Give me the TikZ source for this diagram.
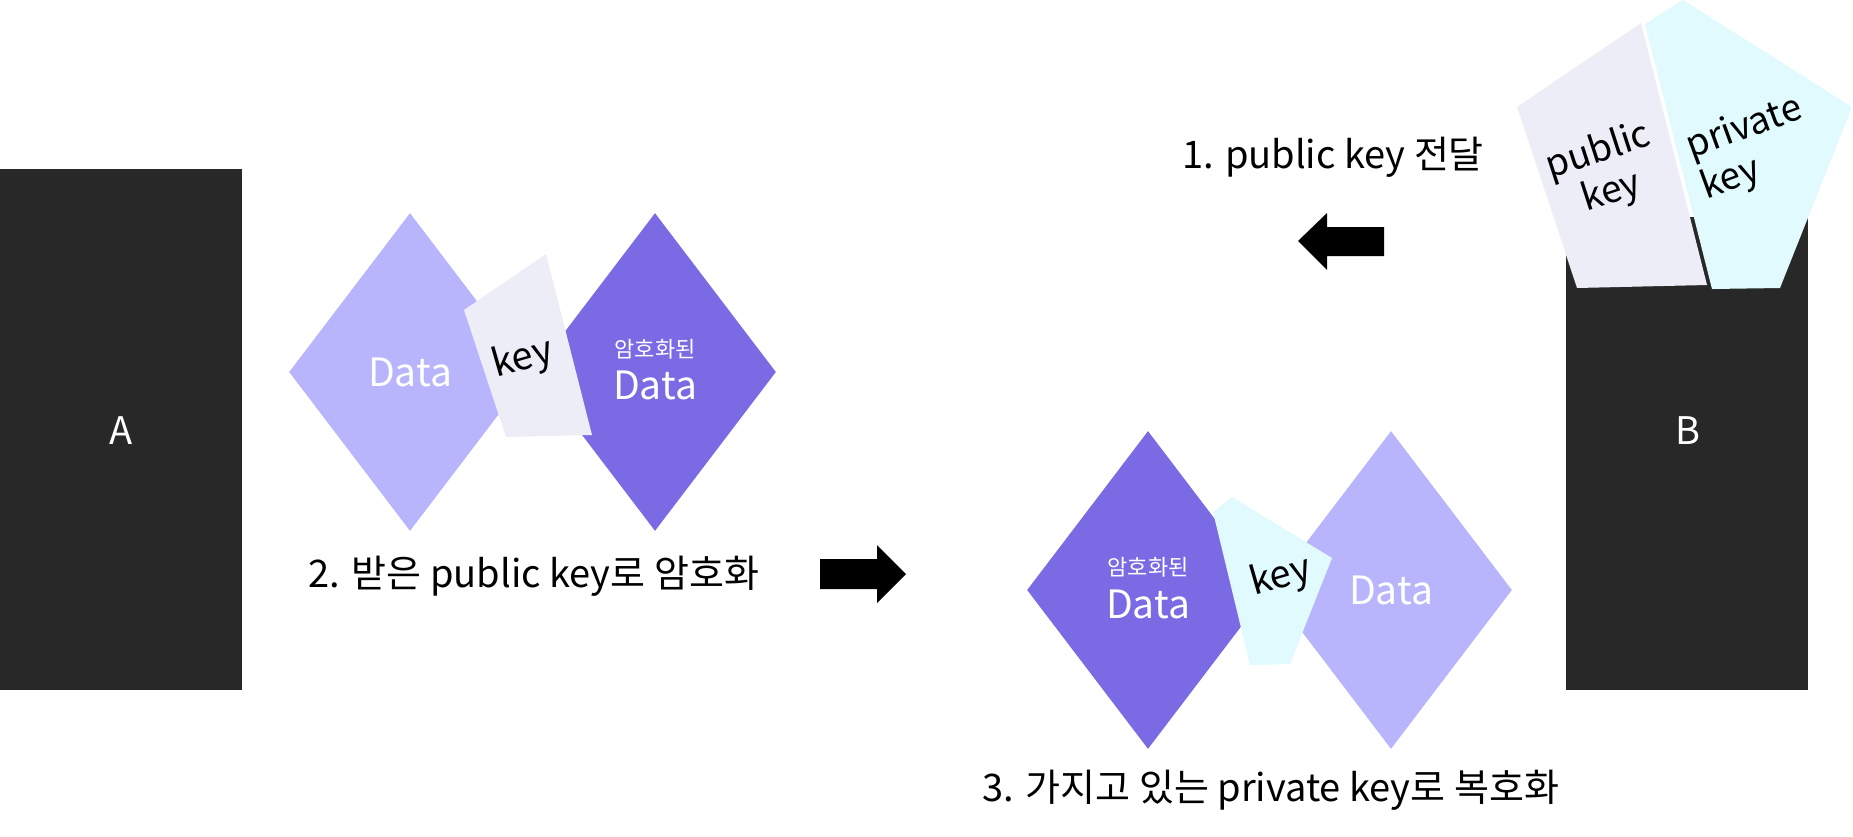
\documentclass[tikz,border=0pt]{standalone}
\usepackage{fontspec}
\setmainfont{Noto Sans CJK KR}
\usetikzlibrary{shapes.geometric}

\definecolor{boxgray}{HTML}{282828}
\definecolor{plainlav}{HTML}{B8B5FC}
\definecolor{cipherpur}{HTML}{7A6AE4}
\definecolor{pubkey}{HTML}{EDEDF7}
\definecolor{privkey}{HTML}{E1FAFD}

\begin{document}
\begin{tikzpicture}[x=0.5pt,y=-0.5pt]
		\tikzset{datatxt/.style={text=white,font=\fontsize{19.5}{22}\selectfont}};
		\tikzset{gem/.style={diamond,inner sep=0pt,minimum width=121pt,minimum height=159pt,datatxt}};
		\tikzset{big/.style={font=\fontsize{19}{22}\selectfont}};
		\tikzset{tag/.style={text=white,font=\fontsize{11}{13}\selectfont}};
		\tikzset{keytext/.style={big,rotate=16}};
		\tikzset{pairtext/.style={font=\fontsize{18.5}{21.5}\selectfont,inner sep=0pt}};
		
		\useasboundingbox (0,0) rectangle (1853,836);
		
		% A and B
		\fill [boxgray] (0,169) rectangle (242,690);
		\fill [boxgray] (1566,217) rectangle (1808,690);
		\node (A) at (121,431) [big,text=white]{A};
		\node (B) at (1688,431) [big,text=white]{B};
		
		% keys of B
		\fill [pubkey] (1517,107)--(1641,23)--(1707,285)--(1577,288)--cycle;
		\fill [privkey] (1645,24)--(1683,0)--(1852,107)--(1780,288)--(1712,289)--cycle;
		\node (pub) at (1605,172) [pairtext,rotate=18,align=center]{public\\key};
		\node (priv) at (1752,149) [pairtext,rotate=20,align=left]{private\\key};
		
		% step 1
		\node (s1) at (1333,157) [big]{1. public key 전달};
		\fill (1298,241)--(1327,213)--(1327,227)--(1384,227)--(1384,256)--(1327,256)--(1327,270)--cycle;
		
		% step 2
		\node (d2) at (410,372) [gem,fill=plainlav]{Data};
		\node (e2) at (655,372) [gem,fill=cipherpur]{};
		\fill [pubkey] (464,310)--(546,254)--(592,435)--(506,437)--cycle;
		\node (k2) at (523,359) [keytext]{key};
		\node (e2tag) at (655,349) [tag]{암호화된};
		\node (e2data) at (655,385) [datatxt]{Data};
		\node (s2) at (534,576) [big]{2. 받은 public key로 암호화};
		\fill (906,574)--(877,545)--(877,559)--(820,559)--(820,589)--(877,589)--(877,603)--cycle;
		
		% step 3
		\node (e3) at (1148,590) [gem,fill=cipherpur]{};
		\node (d3) at (1391,590) [gem,fill=plainlav]{Data};
		\fill [privkey] (1213,512)--(1232,497)--(1332,558)--(1290,664)--(1250,665)--cycle;
		\node (k3) at (1281,577) [keytext]{key};
		\node (e3tag) at (1148,567) [tag]{암호화된};
		\node (e3data) at (1148,604) [datatxt]{Data};
		\node (s3) at (1271,790) [big]{3. 가지고 있는 private key로 복호화};
\end{tikzpicture}
\end{document}
